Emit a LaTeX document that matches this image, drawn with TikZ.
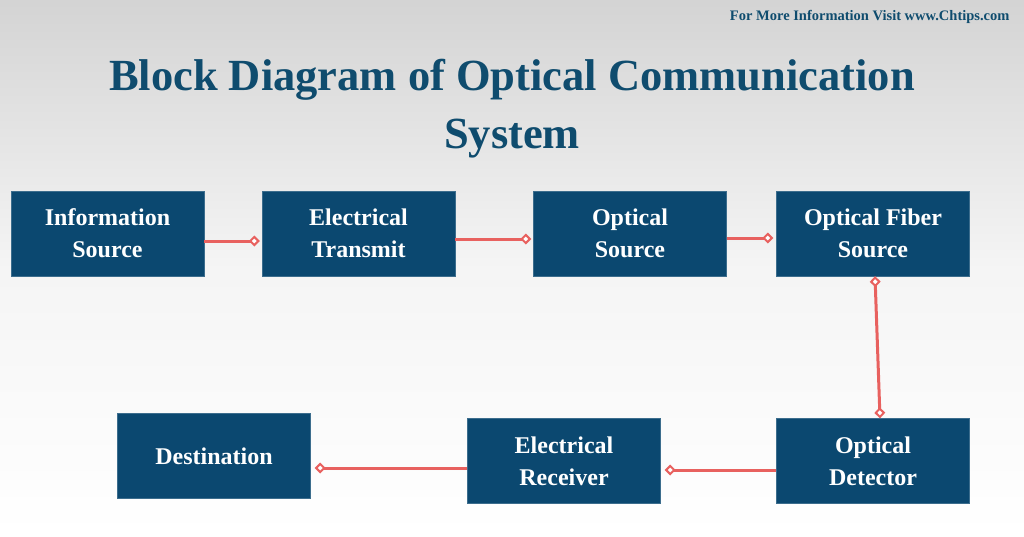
\documentclass[tikz,border=0pt]{standalone}
\usepackage{fontspec}
\setmainfont{Liberation Serif}
\usetikzlibrary{arrows.meta}
\definecolor{boxblue}{HTML}{0B4870}
\definecolor{titleblue}{HTML}{0F4C6E}
\definecolor{linkred}{HTML}{E8615F}
\tikzset{
  blk/.style={fill=boxblue, draw=boxblue!80!white, minimum width=193pt, minimum height=85pt,
    text=white, align=center, font=\fontsize{24}{32}\selectfont\bfseries, inner sep=0pt},
  dtip/.tip={Diamond[open, fill=white, length=11pt, width=11pt, line width=2pt]},
  link/.style={draw=linkred, line width=3pt, -dtip, shorten >=1pt},
  link2/.style={draw=linkred, line width=3pt, dtip-dtip}
}
\begin{document}
\begin{tikzpicture}[x=1pt,y=-1pt]
\shade[top color=black!17, bottom color=white, middle color=black!4] (0,0) rectangle (1024,536);
\useasboundingbox (0,0) rectangle (1024,536);
\node[text=titleblue, font=\fontsize{14.5}{16}\selectfont\bfseries, anchor=east] (web) at (1013,17) {For More Information Visit www.Chtips.com};
\node[text=titleblue, font=\fontsize{44.5}{58}\selectfont\bfseries, align=center] (title) at (512,109) {Block Diagram of Optical Communication\\System};
\node[blk] (info) at (107.5,233.5) {Information\\Source};
\node[blk] (etx) at (358.5,233.5) {Electrical\\Transmit};
\node[blk] (osrc) at (630,233.5) {Optical\\Source};
\node[blk] (fib) at (873,233.5) {Optical Fiber\\Source};
\node[blk] (dest) at (214,456) {Destination};
\node[blk] (erx) at (564,461) {Electrical\\Receiver};
\node[blk] (odet) at (873,461) {Optical\\Detector};
\draw[link] ([yshift=-7.5pt]info.east) -- ([yshift=-7.5pt,xshift=-1pt]etx.west);
\draw[link] ([yshift=-5.5pt]etx.east) -- ([yshift=-5.5pt,xshift=-1pt]osrc.west);
\draw[link] ([yshift=-4.5pt]osrc.east) -- ([yshift=-4.5pt,xshift=-2pt]fib.west);
\draw[link2] ([xshift=2pt]fib.south) -- ([xshift=7pt]odet.north);
\draw[link] ([yshift=-9pt]odet.west) -- ([yshift=-9pt,xshift=3pt]erx.east);
\draw[link] ([yshift=-7pt]erx.west) -- ([yshift=-12pt,xshift=3pt]dest.east);
\end{tikzpicture}
\end{document}
